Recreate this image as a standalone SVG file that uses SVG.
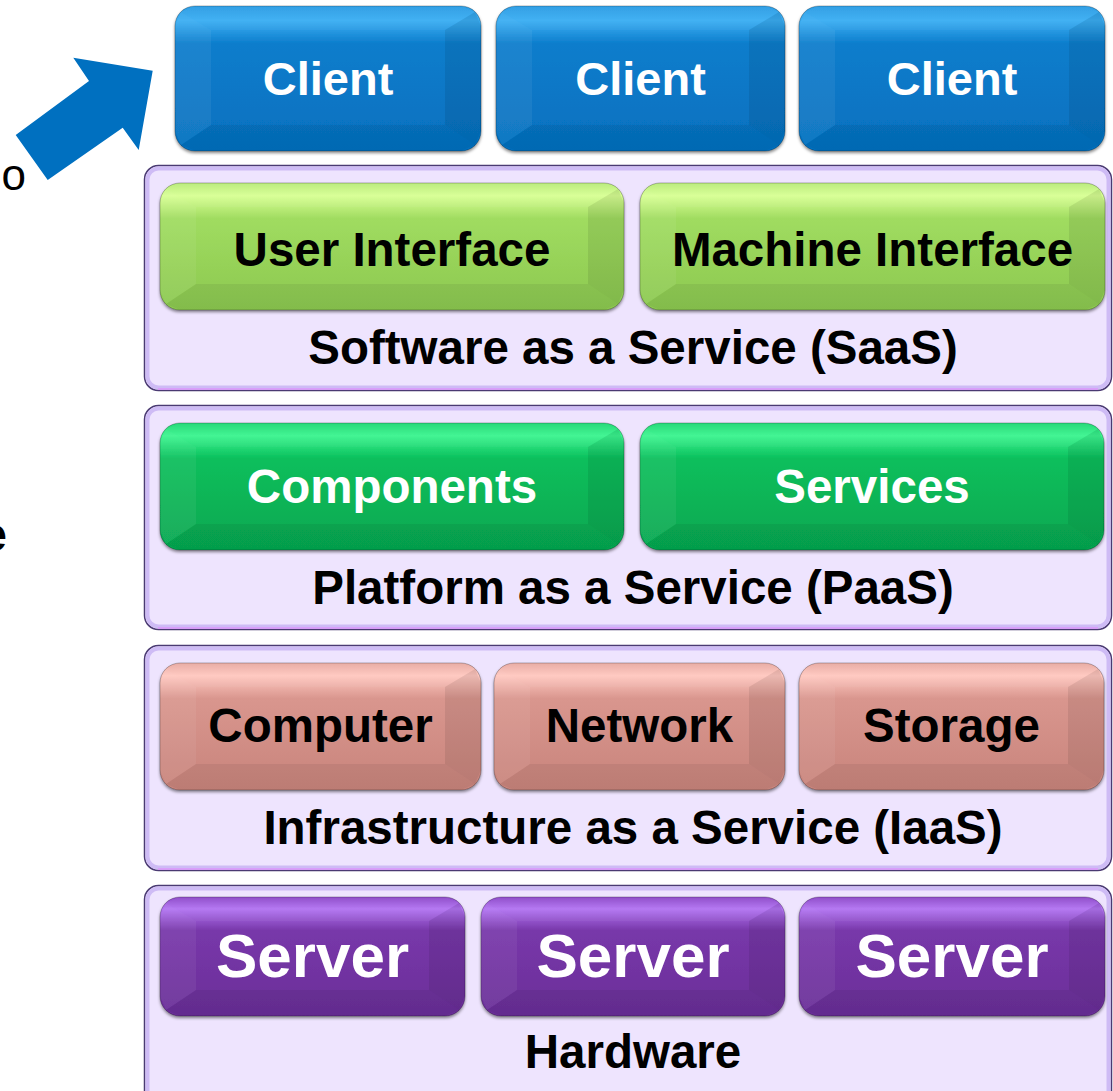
<svg xmlns="http://www.w3.org/2000/svg" width="1113" height="1091" viewBox="0 0 1113 1091">
<defs>
<style>
text{font-family:"Liberation Sans",Arial,sans-serif;font-weight:bold;text-anchor:middle}
.lbl{font-size:47.5px;fill:#000}
.wt{fill:#fff}
.bk{fill:#000}
.big{font-size:62px}
.panel{fill:#EEE4FE;stroke:#4A3A72;stroke-width:1.5}
.pin{fill:none;stroke:#C6B0F2;stroke-width:4;opacity:.8}
.pbot{fill:none;stroke:#E28CFF;stroke-width:1.5;opacity:.8}
.btn{stroke:#000;stroke-opacity:.25;stroke-width:1;filter:url(#sh)}
.fl{fill:#fff;opacity:.06}
.fr{fill:#000;opacity:.08}
.ft{fill:#fff;opacity:.04}
.fb{fill:#000;opacity:.06}
</style>
<filter id="sh" x="-5%" y="-5%" width="110%" height="120%">
<feDropShadow dx="0" dy="2" stdDeviation="1.8" flood-color="#000" flood-opacity="0.45"/>
</filter>
<linearGradient id="gBlue" x1="0" y1="0" x2="0" y2="1">
<stop offset="0" stop-color="#2A9CE4"/><stop offset="0.1" stop-color="#3BAEF3"/><stop offset="0.26" stop-color="#0C7DCC"/><stop offset="1" stop-color="#0570BF"/>
</linearGradient>
<linearGradient id="gLime" x1="0" y1="0" x2="0" y2="1">
<stop offset="0" stop-color="#B8EC7A"/><stop offset="0.1" stop-color="#D8FF94"/><stop offset="0.28" stop-color="#A0DC60"/><stop offset="1" stop-color="#8CC850"/>
</linearGradient>
<linearGradient id="gGreen" x1="0" y1="0" x2="0" y2="1">
<stop offset="0" stop-color="#20D874"/><stop offset="0.1" stop-color="#3CF590"/><stop offset="0.28" stop-color="#0ABF5C"/><stop offset="1" stop-color="#06A750"/>
</linearGradient>
<linearGradient id="gSalmon" x1="0" y1="0" x2="0" y2="1">
<stop offset="0" stop-color="#E8AAA2"/><stop offset="0.1" stop-color="#FFC8C0"/><stop offset="0.28" stop-color="#D9968E"/><stop offset="1" stop-color="#C8847C"/>
</linearGradient>
<linearGradient id="gPurple" x1="0" y1="0" x2="0" y2="1">
<stop offset="0" stop-color="#8C48C8"/><stop offset="0.1" stop-color="#B274F2"/><stop offset="0.28" stop-color="#7838AA"/><stop offset="1" stop-color="#6A2E98"/>
</linearGradient>
</defs>
<rect width="1113" height="1091" fill="#fff"/>

<g id="side-text">
<text x="26" y="190" style="font-weight:normal;font-size:44px;text-anchor:end" class="bk">o</text>
<text x="7" y="551" style="font-size:48px;text-anchor:end" class="bk">e</text>
</g>

<g id="connectors">
<polygon points="15.7,135 89,81 73.3,57.7 152.7,70.7 138.7,150 122.7,127.7 47.7,180" fill="#0070C0"/>
</g>

<!-- Panels -->
<g id="panel-saas">
<rect class="panel" x="144.5" y="165.5" width="967" height="225" rx="14"/>
<rect class="pin" x="147.5" y="168.5" width="961" height="219" rx="11"/>
<path class="pbot" d="M158,389 H1098"/>
<text class="lbl" x="633" y="364">Software as a Service (SaaS)</text>
</g>
<g id="panel-paas">
<rect class="panel" x="144.5" y="405.5" width="967" height="224" rx="14"/>
<rect class="pin" x="147.5" y="408.5" width="961" height="218" rx="11"/>
<path class="pbot" d="M158,628 H1098"/>
<text class="lbl" x="633" y="604">Platform as a Service (PaaS)</text>
</g>
<g id="panel-iaas">
<rect class="panel" x="144.5" y="645.5" width="967" height="225" rx="14"/>
<rect class="pin" x="147.5" y="648.5" width="961" height="219" rx="11"/>
<path class="pbot" d="M158,869 H1098"/>
<text class="lbl" x="633" y="844">Infrastructure as a Service (IaaS)</text>
</g>
<g id="panel-hardware">
<rect class="panel" x="144.5" y="885.5" width="967" height="220" rx="14"/>
<rect class="pin" x="147.5" y="888.5" width="961" height="214" rx="11"/>
<text class="lbl" x="633" y="1068">Hardware</text>
</g>

<!-- Clients -->
<g id="client-1">
<rect class="btn" x="175" y="6" width="306" height="145" rx="20" fill="url(#gBlue)"/>
<path class="fl" d="M175,26 l6,-14 l30,18 v95 l-30,20 l-6,-14 z"/>
<path class="fr" d="M481,26 l-6,-14 l-30,18 v95 l30,20 l6,-14 z"/>
<path class="ft" d="M195,6 h266 l14,6 l-30,18 h-234 l-30,-18 z"/>
<path class="fb" d="M195,151 h266 l14,-6 l-30,-20 h-234 l-30,20 z"/>
<text class="lbl wt" x="328" y="95" style="font-size:47px">Client</text>
</g>
<g id="client-2">
<rect class="btn" x="496" y="6" width="289" height="145" rx="20" fill="url(#gBlue)"/>
<path class="fl" d="M496,26 l6,-14 l30,18 v95 l-30,20 l-6,-14 z"/>
<path class="fr" d="M785,26 l-6,-14 l-30,18 v95 l30,20 l6,-14 z"/>
<path class="ft" d="M516,6 h249 l14,6 l-30,18 h-217 l-30,-18 z"/>
<path class="fb" d="M516,151 h249 l14,-6 l-30,-20 h-217 l-30,20 z"/>
<text class="lbl wt" x="640.5" y="95" style="font-size:47px">Client</text>
</g>
<g id="client-3">
<rect class="btn" x="799" y="6" width="306" height="145" rx="20" fill="url(#gBlue)"/>
<path class="fl" d="M799,26 l6,-14 l30,18 v95 l-30,20 l-6,-14 z"/>
<path class="fr" d="M1105,26 l-6,-14 l-30,18 v95 l30,20 l6,-14 z"/>
<path class="ft" d="M819,6 h266 l14,6 l-30,18 h-234 l-30,-18 z"/>
<path class="fb" d="M819,151 h266 l14,-6 l-30,-20 h-234 l-30,20 z"/>
<text class="lbl wt" x="952" y="95" style="font-size:47px">Client</text>
</g>

<!-- SaaS -->
<g id="user-interface">
<rect class="btn" x="160" y="183" width="464" height="127" rx="20" fill="url(#gLime)"/>
<path class="fl" d="M160,203 l6,-14 l30,18 v77 l-30,20 l-6,-14 z"/>
<path class="fr" d="M624,203 l-6,-14 l-30,18 v77 l30,20 l6,-14 z"/>
<path class="ft" d="M180,183 h424 l14,6 l-30,18 h-392 l-30,-18 z"/>
<path class="fb" d="M180,310 h424 l14,-6 l-30,-20 h-392 l-30,20 z"/>
<text class="lbl bk" x="392" y="266">User Interface</text>
</g>
<g id="machine-interface">
<rect class="btn" x="640" y="183" width="465" height="127" rx="20" fill="url(#gLime)"/>
<path class="fl" d="M640,203 l6,-14 l30,18 v77 l-30,20 l-6,-14 z"/>
<path class="fr" d="M1105,203 l-6,-14 l-30,18 v77 l30,20 l6,-14 z"/>
<path class="ft" d="M660,183 h425 l14,6 l-30,18 h-393 l-30,-18 z"/>
<path class="fb" d="M660,310 h425 l14,-6 l-30,-20 h-393 l-30,20 z"/>
<text class="lbl bk" x="872.5" y="266">Machine Interface</text>
</g>

<!-- PaaS -->
<g id="components">
<rect class="btn" x="160" y="423" width="464" height="127" rx="20" fill="url(#gGreen)"/>
<path class="fl" d="M160,443 l6,-14 l30,18 v77 l-30,20 l-6,-14 z"/>
<path class="fr" d="M624,443 l-6,-14 l-30,18 v77 l30,20 l6,-14 z"/>
<path class="ft" d="M180,423 h424 l14,6 l-30,18 h-392 l-30,-18 z"/>
<path class="fb" d="M180,550 h424 l14,-6 l-30,-20 h-392 l-30,20 z"/>
<text class="lbl wt" x="392" y="503">Components</text>
</g>
<g id="services">
<rect class="btn" x="640" y="423" width="464" height="127" rx="20" fill="url(#gGreen)"/>
<path class="fl" d="M640,443 l6,-14 l30,18 v77 l-30,20 l-6,-14 z"/>
<path class="fr" d="M1104,443 l-6,-14 l-30,18 v77 l30,20 l6,-14 z"/>
<path class="ft" d="M660,423 h424 l14,6 l-30,18 h-392 l-30,-18 z"/>
<path class="fb" d="M660,550 h424 l14,-6 l-30,-20 h-392 l-30,20 z"/>
<text class="lbl wt" x="872" y="503">Services</text>
</g>

<!-- IaaS -->
<g id="computer">
<rect class="btn" x="160" y="663" width="321" height="127" rx="20" fill="url(#gSalmon)"/>
<path class="fl" d="M160,683 l6,-14 l30,18 v77 l-30,20 l-6,-14 z"/>
<path class="fr" d="M481,683 l-6,-14 l-30,18 v77 l30,20 l6,-14 z"/>
<path class="ft" d="M180,663 h281 l14,6 l-30,18 h-249 l-30,-18 z"/>
<path class="fb" d="M180,790 h281 l14,-6 l-30,-20 h-249 l-30,20 z"/>
<text class="lbl bk" x="320.5" y="742">Computer</text>
</g>
<g id="network">
<rect class="btn" x="494" y="663" width="291" height="127" rx="20" fill="url(#gSalmon)"/>
<path class="fl" d="M494,683 l6,-14 l30,18 v77 l-30,20 l-6,-14 z"/>
<path class="fr" d="M785,683 l-6,-14 l-30,18 v77 l30,20 l6,-14 z"/>
<path class="ft" d="M514,663 h251 l14,6 l-30,18 h-219 l-30,-18 z"/>
<path class="fb" d="M514,790 h251 l14,-6 l-30,-20 h-219 l-30,20 z"/>
<text class="lbl bk" x="639.5" y="742">Network</text>
</g>
<g id="storage">
<rect class="btn" x="799" y="663" width="305" height="127" rx="20" fill="url(#gSalmon)"/>
<path class="fl" d="M799,683 l6,-14 l30,18 v77 l-30,20 l-6,-14 z"/>
<path class="fr" d="M1104,683 l-6,-14 l-30,18 v77 l30,20 l6,-14 z"/>
<path class="ft" d="M819,663 h265 l14,6 l-30,18 h-233 l-30,-18 z"/>
<path class="fb" d="M819,790 h265 l14,-6 l-30,-20 h-233 l-30,20 z"/>
<text class="lbl bk" x="951.5" y="742">Storage</text>
</g>

<!-- Hardware -->
<g id="server-1">
<rect class="btn" x="160" y="897" width="305" height="119" rx="20" fill="url(#gPurple)"/>
<path class="fl" d="M160,917 l6,-14 l30,18 v69 l-30,20 l-6,-14 z"/>
<path class="fr" d="M465,917 l-6,-14 l-30,18 v69 l30,20 l6,-14 z"/>
<path class="ft" d="M180,897 h265 l14,6 l-30,18 h-233 l-30,-18 z"/>
<path class="fb" d="M180,1016 h265 l14,-6 l-30,-20 h-233 l-30,20 z"/>
<text class="lbl wt big" x="312.5" y="977">Server</text>
</g>
<g id="server-2">
<rect class="btn" x="481" y="897" width="304" height="119" rx="20" fill="url(#gPurple)"/>
<path class="fl" d="M481,917 l6,-14 l30,18 v69 l-30,20 l-6,-14 z"/>
<path class="fr" d="M785,917 l-6,-14 l-30,18 v69 l30,20 l6,-14 z"/>
<path class="ft" d="M501,897 h264 l14,6 l-30,18 h-232 l-30,-18 z"/>
<path class="fb" d="M501,1016 h264 l14,-6 l-30,-20 h-232 l-30,20 z"/>
<text class="lbl wt big" x="633" y="977">Server</text>
</g>
<g id="server-3">
<rect class="btn" x="799" y="897" width="306" height="119" rx="20" fill="url(#gPurple)"/>
<path class="fl" d="M799,917 l6,-14 l30,18 v69 l-30,20 l-6,-14 z"/>
<path class="fr" d="M1105,917 l-6,-14 l-30,18 v69 l30,20 l6,-14 z"/>
<path class="ft" d="M819,897 h266 l14,6 l-30,18 h-234 l-30,-18 z"/>
<path class="fb" d="M819,1016 h266 l14,-6 l-30,-20 h-234 l-30,20 z"/>
<text class="lbl wt big" x="952" y="977">Server</text>
</g>
</svg>
